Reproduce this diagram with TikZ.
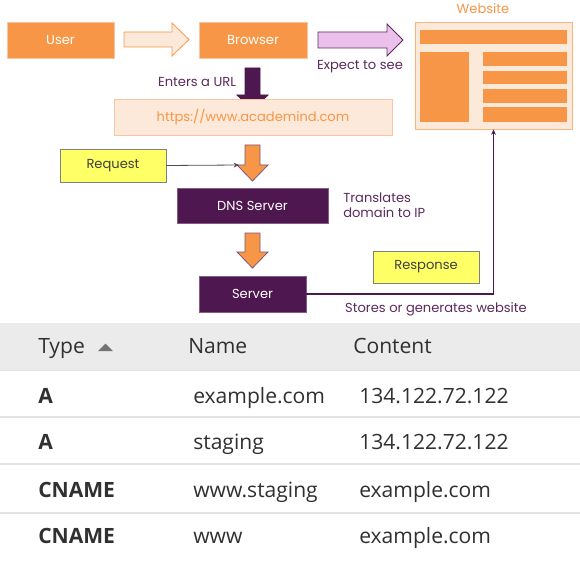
\documentclass[tikz,border=0pt]{standalone}
\usepackage{fontspec}
\setmainfont{Poppins}
\newfontfamily\tablefont{Open Sans}
\usetikzlibrary{arrows.meta}
\definecolor{org}{HTML}{F79646}
\definecolor{orgline}{HTML}{FBC4A0}
\definecolor{peach}{HTML}{FDE9D9}
\definecolor{dpurp}{HTML}{4E1750}
\definecolor{tpurp}{HTML}{5B2A5E}
\definecolor{lpurp}{HTML}{EBC0EB}
\definecolor{yel}{HTML}{FFFF66}
\definecolor{hdr}{HTML}{EBEBEB}
\definecolor{sepc}{HTML}{E2E2E2}
\definecolor{ttext}{HTML}{303030}
\tikzset{
  sz/.style 2 args={minimum width=#1*0.75pt, minimum height=#2*0.75pt},
  dfont/.style={font=\fontsize{9.8pt}{11.5pt}\selectfont},
  obox/.style={rectangle, fill=org, draw=orgline, line width=0.6pt, text=white, inner sep=0pt, dfont},
  pbox/.style={rectangle, fill=dpurp, draw=dpurp!70, line width=0.6pt, text=white, inner sep=0pt, dfont},
  ybox/.style={rectangle, fill=yel, draw=gray, line width=0.6pt, text=black!75, inner sep=0pt, dfont},
  lbl/.style={text=tpurp, inner sep=0pt, dfont},
  blockarrow/.style={line width=0.6pt, line join=miter},
  thead/.style={anchor=base west, text=ttext, inner sep=0pt, font=\tablefont\fontsize{15.8pt}{18pt}\selectfont},
  tbold/.style={thead, font=\tablefont\bfseries\fontsize{15.8pt}{18pt}\selectfont},
  seprule/.style={draw=sepc, line width=1.1pt}
}
\begin{document}
\begin{tikzpicture}[x=0.75pt,y=-0.75pt]
\useasboundingbox (0,0) rectangle (580,570);
% top row
\node[obox, sz={107}{36}] (user) at (60.5,40) {User};
\node[obox, sz={108}{36}] (browser) at (253,40) {Browser};
\draw[blockarrow, fill=peach, draw=org] (124,32) -- (172,32) -- (172,23) -- (189,39.5) -- (172,56) -- (172,47) -- (124,47) -- cycle;
\draw[blockarrow, fill=lpurp, draw=tpurp] (318,32) -- (387,32) -- (387,24) -- (403,40) -- (387,56) -- (387,48) -- (318,48) -- cycle;
\node[lbl] (expect) at (360,67) {Expect to see};
% website
\node[text=org, inner sep=0pt, dfont] (weblbl) at (483,8.5) {Website};
\node[rectangle, fill=peach, draw=org!70, line width=0.6pt, sz={157}{107}] (website) at (493.5,75.5) {};
\fill[org] (420,30) rectangle (567,44);
\fill[org] (420,52) rectangle (469,122);
\fill[org] (483,52) rectangle (567,66);
\fill[org] (483,71) rectangle (567,84);
\fill[org] (483,89) rectangle (567,103);
\fill[org] (483,107) rectangle (567,122);
% enters URL
\node[lbl] (enters) at (197,82) {Enters a URL};
\draw[blockarrow, fill=dpurp, draw=dpurp] (245,68) -- (260,68) -- (260,95) -- (268,95) -- (252.5,110) -- (237,95) -- (245,95) -- cycle;
\node[rectangle, fill=peach, draw=orgline, line width=0.6pt, sz={278}{36}, text=org, dfont] (url) at (253,117) {https://www.academind.com};
% request
\node[ybox, sz={106}{33}] (request) at (113,165.5) {Request};
\draw[blockarrow, fill=org, draw=tpurp!80] (245,145) -- (260,145) -- (260,165) -- (268,165) -- (252.5,181) -- (237,165) -- (245,165) -- cycle;
\coordinate (arr1) at (239,165);
\draw[-{Stealth[length=4pt,width=3.5pt]}, draw=black!70, line width=0.6pt] (request.east) -- (arr1);
% DNS
\node[pbox, sz={151}{35}] (dns) at (252.5,205.5) {DNS Server};
\node[lbl, anchor=west, align=left] (translates) at (343,205) {Translates\\domain to IP};
\draw[blockarrow, fill=org, draw=tpurp!80] (245,233) -- (260,233) -- (260,252) -- (268,252) -- (252.5,268) -- (237,252) -- (245,252) -- cycle;
\node[pbox, sz={107}{36}] (server) at (252.5,294) {Server};
\node[ybox, sz={106}{32}] (response) at (426,267) {Response};
\draw[-{Stealth[length=4pt,width=3.5pt]}, draw=dpurp, line width=0.8pt] (server.east) -| (website.south);
\node[lbl] (stores) at (436,309) {Stores or generates website};
% table
\fill[hdr] (0,323) rectangle (580,370);
\draw[seprule] (0,370.5) -- (580,370.5);
\draw[seprule] (0,417) -- (580,417);
\draw[seprule] (0,464) -- (580,464);
\draw[seprule] (0,513) -- (580,513);
\node[thead] (htype) at (38,353) {Type};
\fill[black!55] (98,351) -- (113,351) -- (105.5,343.5) -- cycle;
\node[thead] (hname) at (188,353) {Name};
\node[thead] (hcontent) at (353,353) {Content};
\node[tbold] (t1) at (38,403) {A};
\node[thead] (n1) at (193,403) {example.com};
\node[thead] (c1) at (359,403) {134.122.72.122};
\node[tbold] (t2) at (38,449) {A};
\node[thead] (n2) at (193,449) {staging};
\node[thead] (c2) at (359,449) {134.122.72.122};
\node[tbold] (t3) at (38,497) {CNAME};
\node[thead] (n3) at (193,497) {www.staging};
\node[thead] (c3) at (359,497) {example.com};
\node[tbold] (t4) at (38,543) {CNAME};
\node[thead] (n4) at (193,543) {www};
\node[thead] (c4) at (359,543) {example.com};
\end{tikzpicture}
\end{document}
